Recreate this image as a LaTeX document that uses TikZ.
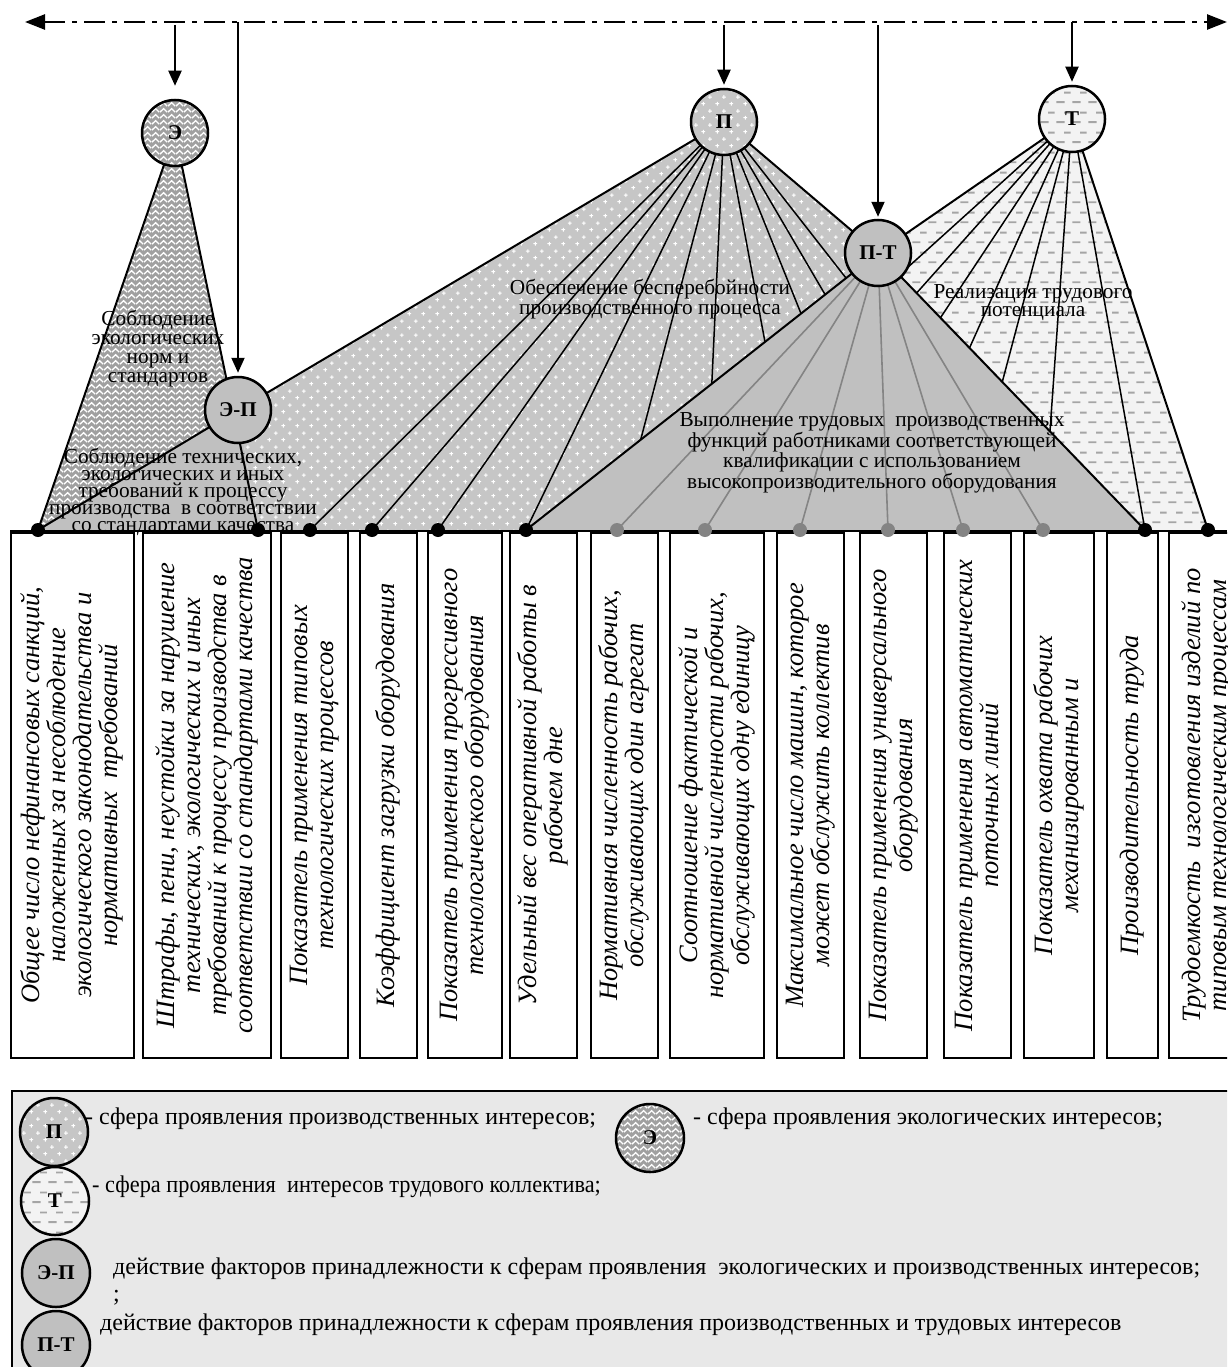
\documentclass[tikz,border=0pt]{standalone}
\usepackage{fontspec}
\setmainfont{Liberation Serif}
\usetikzlibrary{arrows.meta,patterns}

\pgfdeclarepatternformonly{pcross}{\pgfpoint{0pt}{0pt}}{\pgfpoint{14pt}{14pt}}{\pgfpoint{14pt}{14pt}}{%
  \pgfsetlinewidth{1.1pt}%
  \pgfpathmoveto{\pgfpoint{1.5pt}{3.5pt}}\pgfpathlineto{\pgfpoint{5.5pt}{3.5pt}}%
  \pgfpathmoveto{\pgfpoint{3.5pt}{1.5pt}}\pgfpathlineto{\pgfpoint{3.5pt}{5.5pt}}%
  \pgfpathmoveto{\pgfpoint{8.5pt}{10.5pt}}\pgfpathlineto{\pgfpoint{12.5pt}{10.5pt}}%
  \pgfpathmoveto{\pgfpoint{10.5pt}{8.5pt}}\pgfpathlineto{\pgfpoint{10.5pt}{12.5pt}}%
  \pgfusepath{stroke}}
\pgfdeclarepatternformonly{ezig}{\pgfpoint{0pt}{0pt}}{\pgfpoint{8pt}{6pt}}{\pgfpoint{8pt}{6pt}}{%
  \pgfsetlinewidth{1.5pt}%
  \pgfpathmoveto{\pgfpoint{0pt}{1pt}}\pgfpathlineto{\pgfpoint{4pt}{5pt}}\pgfpathlineto{\pgfpoint{8pt}{1pt}}%
  \pgfusepath{stroke}}
\pgfdeclarepatternformonly{tdash}{\pgfpoint{0pt}{0pt}}{\pgfpoint{16pt}{20pt}}{\pgfpoint{16pt}{20pt}}{%
  \pgfsetlinewidth{2pt}%
  \pgfpathmoveto{\pgfpoint{0.5pt}{5pt}}\pgfpathlineto{\pgfpoint{9pt}{5pt}}%
  \pgfpathmoveto{\pgfpoint{8.5pt}{15pt}}\pgfpathlineto{\pgfpoint{15.5pt}{15pt}}%
  \pgfusepath{stroke}}

\definecolor{pgray}{HTML}{C6C6C6}
\definecolor{mgray}{HTML}{C0C0C0}
\definecolor{tback}{HTML}{F3F3F3}
\definecolor{tdashc}{HTML}{A5A5A5}
\definecolor{ezc}{HTML}{A0A0A0}
\definecolor{rayg}{HTML}{848484}
\definecolor{legbg}{HTML}{E8E8E8}

\tikzset{
  Preg/.style={preaction={fill=pgray}, pattern=pcross, pattern color=white},
  Ereg/.style={preaction={fill=ezc}, pattern=ezig, pattern color=white},
  Treg/.style={preaction={fill=tback}, pattern=tdash, pattern color=tdashc},
  Mreg/.style={fill=mgray},
  edge/.style={line width=2pt, line join=round},
  ray/.style={line width=1.5pt},
  grayray/.style={line width=1.6pt, draw=rayg},
  bigc/.style={circle, draw, line width=2.5pt, minimum size=66pt, inner sep=0pt,
     font=\bfseries\fontsize{21}{21}\selectfont},
  legc/.style={bigc, minimum size=68pt},
  dotb/.style={circle, fill=black, minimum size=14pt, inner sep=0pt},
  dotg/.style={circle, fill=rayg, minimum size=14pt, inner sep=0pt},
  bx/.style={draw, line width=1.6pt, fill=white, minimum height=525pt, anchor=north west, inner sep=0pt},
  btxt/.style={rotate=90, align=center, inner sep=0pt, font=\itshape\fontsize{26.5}{26}\selectfont},
  lab/.style={align=center, inner sep=0pt},
  legt/.style={anchor=west, inner sep=0pt, font=\fontsize{24}{26}\selectfont},
  varrow/.style={line width=2pt, -{Triangle[length=15pt,width=13pt]}},
  topline/.style={line width=2.5pt, dash pattern=on 21pt off 7pt on 5pt off 7pt,
     {Triangle[length=20pt,width=15pt]}-{Triangle[length=20pt,width=15pt]}}
}

\begin{document}
\begin{tikzpicture}[x=1pt,y=-1pt]
\useasboundingbox (0,0) rectangle (1227,1367);
\clip (0,0) rectangle (1227,1367);

% centres
\coordinate (Ec) at (175,133);
\coordinate (EPc) at (238,410);
\coordinate (Pc) at (724,122);
\coordinate (PTc) at (878,253);
\coordinate (Tc) at (1072,119);
% base points
\coordinate (b1) at (38,530);
\coordinate (b2) at (258,530);
\coordinate (b3) at (310,530);
\coordinate (b4) at (372,530);
\coordinate (b5) at (438,530);
\coordinate (b6) at (526,530);
\coordinate (b7) at (617,530);
\coordinate (b8) at (705,530);
\coordinate (b9) at (800,530);
\coordinate (b10) at (888,530);
\coordinate (b11) at (963,530);
\coordinate (b12) at (1043,530);
\coordinate (b13) at (1145,530);
\coordinate (b14) at (1208,530);

% regions
\path[Ereg] (Ec) -- (b1) -- (b2) -- cycle;
\path[Mreg] (EPc) -- (b1) -- (b2) -- cycle;
\path[Preg] (Pc) -- (EPc) -- (b2) -- (b6) -- (PTc) -- cycle;
\path[Treg] (Tc) -- (PTc) -- (b13) -- (b14) -- cycle;

\draw[edge] (Ec) -- (b1);
\draw[edge] (Ec) -- (b2);
\draw[edge] (EPc) -- (b1);
\draw[edge] (Pc) -- (EPc);
\draw[edge] (Pc) -- (PTc);
\draw[edge] (Tc) -- (PTc);
\draw[edge] (Tc) -- (b14);

\foreach \i in {3,...,12} \draw[ray] (Pc) -- (b\i);
\foreach \i in {7,...,13} \draw[ray] (Tc) -- (b\i);

\path[Mreg] (PTc) -- (b6) -- (b13) -- cycle;
\draw[edge] (b6) -- (PTc) -- (b13);
\foreach \i in {7,...,12} \draw[grayray] (PTc) -- (b\i);

% region labels
\node[lab, font=\fontsize{21.3}{19}\selectfont] (t1) at (158,349) {Соблюдение\\экологических\\норм и\\стандартов};
\node[lab, font=\fontsize{21.3}{17}\selectfont] (t2) at (183,492) {Соблюдение технических,\\экологических и иных\\требований к процессу\\производства~ в соответствии\\со стандартами качества};
\node[lab, font=\fontsize{21.3}{19.5}\selectfont] (t3) at (650,299) {Обеспечение бесперебойности\\производственного процесса};
\node[lab, font=\fontsize{21.3}{18.3}\selectfont] (t4) at (872,453) {Выполнение трудовых~ производственных\\функций работниками соответствующей\\квалификации с использованием\\высокопроизводительного оборудования};
\node[lab, font=\fontsize{21.3}{18}\selectfont] (t5) at (1033,303) {Реализация трудового\\потенциала};

% boxes
\coordinate (baseL) at (10,531);
\coordinate (baseR) at (1227,531);
\node[bx, minimum width=123pt] (B1) at (10,532) {};
\node[bx, minimum width=128pt] (B2) at (142,532) {};
\node[bx, minimum width=67pt] (B3) at (280,532) {};
\node[bx, minimum width=57pt] (B4) at (359,532) {};
\node[bx, minimum width=74pt] (B5) at (427,532) {};
\node[bx, minimum width=67pt] (B6) at (509,532) {};
\node[bx, minimum width=67pt] (B7) at (590,532) {};
\node[bx, minimum width=94pt] (B8) at (669,532) {};
\node[bx, minimum width=67pt] (B9) at (776,532) {};
\node[bx, minimum width=67pt] (B10) at (859,532) {};
\node[bx, minimum width=67pt] (B11) at (943,532) {};
\node[bx, minimum width=70pt] (B12) at (1023,532) {};
\node[bx, minimum width=51pt] (B13) at (1106,532) {};
\node[bx, minimum width=82pt] (B14) at (1168,532) {};
\draw[line width=2pt] (baseL) -- (baseR);

\node[btxt] (x1) at (B1.center) {Общее число нефинансовых санкций,\\наложенных за несоблюдение\\экологического законодательства и\\нормативных~ требований};
\node[btxt] (x2) at (B2.center) {Штрафы, пени, неустойки за нарушение\\технических, экологических и иных\\требований к процессу производства в\\соответствии со стандартами качества};
\node[btxt] (x3) at (B3.center) {Показатель применения типовых\\технологических процессов};
\node[btxt] (x4) at (B4.center) {Коэффициент загрузки оборудования};
\node[btxt] (x5) at (B5.center) {Показатель применения прогрессивного\\технологического оборудования};
\node[btxt] (x6) at (B6.center) {Удельный вес оперативной работы в\\рабочем дне};
\node[btxt] (x7) at (B7.center) {Нормативная численность рабочих,\\обслуживающих один агрегат};
\node[btxt] (x8) at (B8.center) {Соотношение фактической и\\нормативной численности рабочих,\\обслуживающих одну единицу};
\node[btxt] (x9) at (B9.center) {Максимальное число машин, которое\\может обслужить коллектив};
\node[btxt] (x10) at (B10.center) {Показатель применения универсального\\оборудования};
\node[btxt] (x11) at (B11.center) {Показатель применения автоматических\\поточных линий};
\node[btxt] (x12) at (B12.center) {Показатель охвата рабочих\\механизированным и};
\node[btxt] (x13) at (B13.center) {Производительность труда};
\node[btxt] (x14) at ([xshift=-3pt]B14.center) {Трудоемкость~ изготовления изделий по\\типовым технологическим процессам};

% dots
\foreach \i in {1,...,6} \node[dotb] (d\i) at (b\i) {};
\foreach \i in {7,...,12} \node[dotg] (d\i) at (b\i) {};
\foreach \i in {13,14} \node[dotb] (d\i) at (b\i) {};

% circles
\node[bigc, Ereg] (E) at (Ec) {Э};
\node[bigc, Mreg] (EP) at (EPc) {Э-П};
\node[bigc, Preg] (P) at (Pc) {П};
\node[bigc, Mreg] (PT) at (PTc) {П-Т};
\node[bigc, Treg] (T) at (Tc) {Т};

% top line and arrows
\coordinate (TL) at (25,22);
\coordinate (TR) at (1227,22);
\draw[topline] (TL) -- (TR);
\coordinate (aE) at (175,25);
\coordinate (aEP) at (238,22);
\coordinate (aP) at (724,25);
\coordinate (aPT) at (878,25);
\coordinate (aT) at (1072,22);
\draw[varrow] (aE) -- ([yshift=13pt]E.north);
\draw[varrow, shorten >=3pt] (aEP) -- (EP.north);
\draw[varrow, shorten >=3pt] (aP) -- (P.north);
\draw[varrow, shorten >=2pt] (aPT) -- (PT.north);
\draw[varrow, shorten >=3pt] (aT) -- (T.north);

% legend
\node[draw, line width=1.5pt, fill=legbg, minimum width=1240pt, minimum height=300pt, anchor=north west, inner sep=0pt] (LG) at (11,1090) {};
\node[legc, Preg] (LP) at (54,1132) {П};
\node[legt] (lt1) at (85,1119) {- сфера проявления производственных интересов;};
\node[legc, Ereg] (LE) at (650,1138) {Э};
\node[legt] (lt2) at (693,1119) {- сфера проявления экологических интересов;};
\node[legc, Treg] (LT) at (55,1201) {Т};
\node[legt, xscale=0.93] (lt3) at (92,1187) {- сфера проявления~ интересов трудового коллектива;};
\node[legc, Mreg] (LEP) at (56,1273) {Э-П};
\node[legt] (lt4) at (113,1269) {действие факторов принадлежности к сферам проявления~ экологических и производственных интересов;};
\node[legt] (lt5) at (113,1298) {;};
\node[legc, Mreg] (LPT) at (56,1345) {П-Т};
\node[legt] (lt6) at (100,1325) {действие факторов принадлежности к сферам проявления производственных и трудовых интересов};
\end{tikzpicture}
\end{document}
